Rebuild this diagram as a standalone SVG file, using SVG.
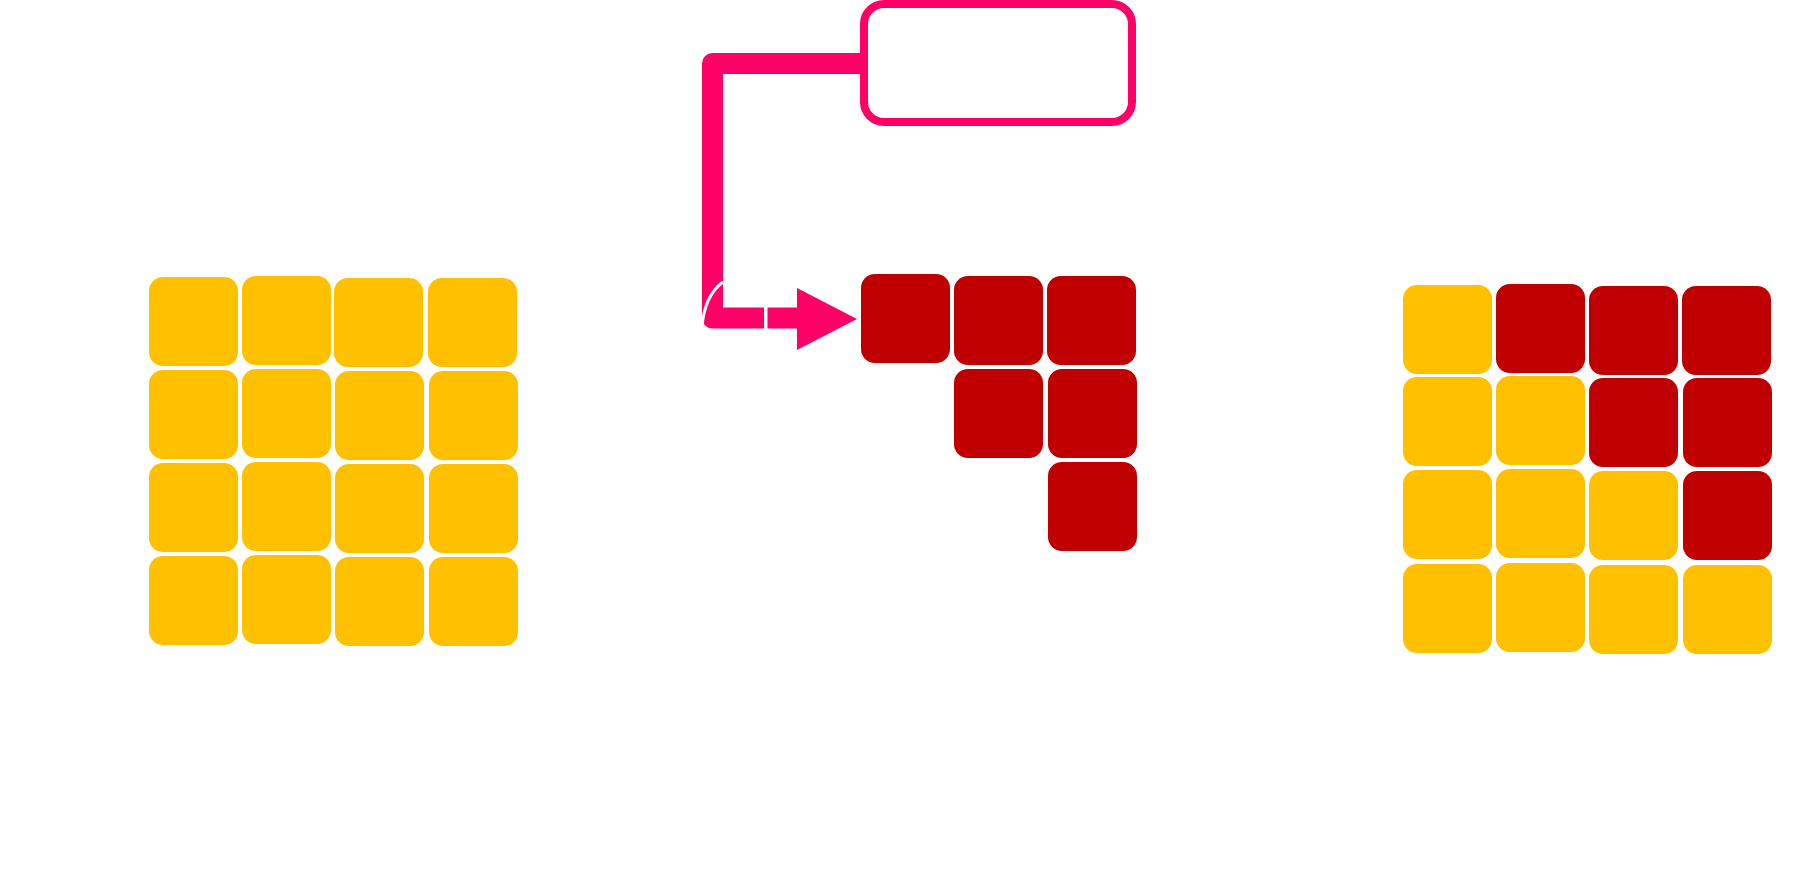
<svg xmlns="http://www.w3.org/2000/svg" width="1794" height="879" viewBox="0 0 1794 879">
<style>
.y{fill:#FFC000}
.r{fill:#C00000}
.conn{fill:none;stroke:#FF0066;stroke-width:21;stroke-linejoin:round}
</style>
<defs>
<rect id="cell" width="89" height="89" rx="14" ry="14"/>
</defs>
<rect width="1794" height="879" fill="#FFFFFF"/>
<g id="box">
<rect x="864" y="4" width="268" height="118" rx="20" ry="20" fill="#FFFFFF" stroke="#FF0066" stroke-width="8"/>
</g>
<g id="connectors">
<path class="conn" d="M860,63.5 H712.5 V318 H764"/>
<path class="conn" d="M767.5,318 H800"/>
<polygon points="797,288 857,319 797,350" fill="#FF0066"/>
<path d="M702,328 Q704,296 723,282" fill="none" stroke="#FFFFFF" stroke-width="3"/>
</g>
<g id="grid-left">
<g id="L11"><use href="#cell" class="y" x="149" y="277"/></g>
<g id="L12"><use href="#cell" class="y" x="242" y="276"/></g>
<g id="L13"><use href="#cell" class="y" x="334" y="278"/></g>
<g id="L14"><use href="#cell" class="y" x="428" y="278"/></g>
<g id="L21"><use href="#cell" class="y" x="149" y="370"/></g>
<g id="L22"><use href="#cell" class="y" x="242" y="369"/></g>
<g id="L23"><use href="#cell" class="y" x="335" y="371"/></g>
<g id="L24"><use href="#cell" class="y" x="429" y="371"/></g>
<g id="L31"><use href="#cell" class="y" x="149" y="463"/></g>
<g id="L32"><use href="#cell" class="y" x="242" y="462"/></g>
<g id="L33"><use href="#cell" class="y" x="335" y="464"/></g>
<g id="L34"><use href="#cell" class="y" x="429" y="464"/></g>
<g id="L41"><use href="#cell" class="y" x="149" y="556"/></g>
<g id="L42"><use href="#cell" class="y" x="242" y="555"/></g>
<g id="L43"><use href="#cell" class="y" x="335" y="557"/></g>
<g id="L44"><use href="#cell" class="y" x="429" y="557"/></g>
</g>
<g id="grid-middle">
<g id="M11"><use href="#cell" class="r" x="861" y="274"/></g>
<g id="M12"><use href="#cell" class="r" x="954" y="276"/></g>
<g id="M13"><use href="#cell" class="r" x="1047" y="276"/></g>
<g id="M22"><use href="#cell" class="r" x="954" y="369"/></g>
<g id="M23"><use href="#cell" class="r" x="1048" y="369"/></g>
<g id="M33"><use href="#cell" class="r" x="1048" y="462"/></g>
</g>
<g id="grid-right">
<g id="R11"><use href="#cell" class="y" x="1403" y="285"/></g>
<g id="R12"><use href="#cell" class="r" x="1496" y="284"/></g>
<g id="R13"><use href="#cell" class="r" x="1589" y="286"/></g>
<g id="R14"><use href="#cell" class="r" x="1682" y="286"/></g>
<g id="R21"><use href="#cell" class="y" x="1403" y="377"/></g>
<g id="R22"><use href="#cell" class="y" x="1496" y="376"/></g>
<g id="R23"><use href="#cell" class="r" x="1589" y="378"/></g>
<g id="R24"><use href="#cell" class="r" x="1683" y="378"/></g>
<g id="R31"><use href="#cell" class="y" x="1403" y="470"/></g>
<g id="R32"><use href="#cell" class="y" x="1496" y="469"/></g>
<g id="R33"><use href="#cell" class="y" x="1589" y="471"/></g>
<g id="R34"><use href="#cell" class="r" x="1683" y="471"/></g>
<g id="R41"><use href="#cell" class="y" x="1403" y="564"/></g>
<g id="R42"><use href="#cell" class="y" x="1496" y="563"/></g>
<g id="R43"><use href="#cell" class="y" x="1589" y="565"/></g>
<g id="R44"><use href="#cell" class="y" x="1683" y="565"/></g>
</g>
</svg>
